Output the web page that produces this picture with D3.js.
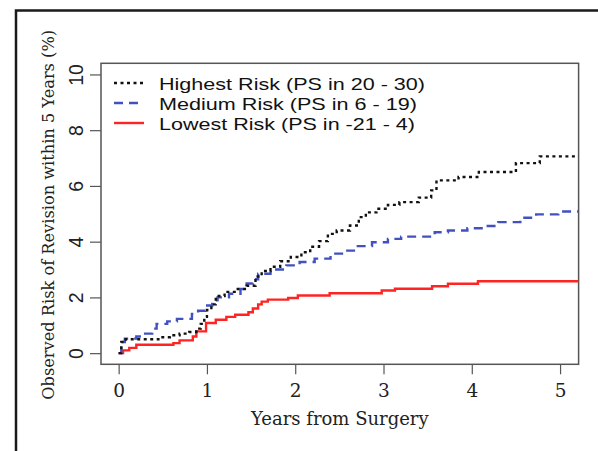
<!DOCTYPE html>
<html>
<head>
<meta charset="utf-8">
<script src="https://cdn.jsdelivr.net/npm/d3@7"></script>
<style>
  body { margin: 0; background: #fff; }
  svg { display: block; }
</style>
</head>
<body>
<div id="chart"></div>
<script>
// step points (years, % revised)
const highYears = [0, 0.03, 0.08, 0.45, 0.58, 0.69, 0.8, 0.88, 0.93, 0.97, 1.0, 1.05, 1.1, 1.2, 1.33, 1.45, 1.55, 1.62, 1.72, 1.83, 1.95, 2.07, 2.17, 2.27, 2.37, 2.47, 2.62, 2.72, 2.8, 2.92, 3.05, 3.18, 3.4, 3.54, 3.6, 3.85, 4.08, 4.5, 4.77, 5.21];
const highRisk = [0, 0.4, 0.5, 0.57, 0.64, 0.7, 0.76, 0.88, 1.05, 1.3, 1.55, 1.75, 2.05, 2.2, 2.3, 2.42, 2.75, 2.95, 3.1, 3.3, 3.45, 3.62, 3.82, 4.02, 4.28, 4.4, 4.58, 4.88, 5.05, 5.18, 5.32, 5.42, 5.58, 5.84, 6.2, 6.32, 6.5, 6.82, 7.06, 7.06];

const medYears = [0, 0.03, 0.07, 0.2, 0.3, 0.38, 0.43, 0.55, 0.66, 0.83, 0.9, 0.98, 1.06, 1.12, 1.25, 1.38, 1.45, 1.52, 1.58, 1.72, 1.9, 2.05, 2.22, 2.4, 2.55, 2.68, 2.87, 3.05, 3.2, 3.58, 3.73, 3.95, 4.13, 4.3, 4.55, 4.73, 4.98, 5.21];
const medRisk = [0, 0.4, 0.52, 0.6, 0.7, 0.88, 1.05, 1.14, 1.23, 1.41, 1.52, 1.71, 1.9, 2.0, 2.13, 2.3, 2.5, 2.65, 2.85, 3.0, 3.15, 3.27, 3.39, 3.57, 3.68, 3.84, 3.98, 4.1, 4.18, 4.34, 4.4, 4.48, 4.56, 4.7, 4.86, 4.98, 5.08, 5.08];

const lowYears = [0, 0.05, 0.12, 0.2, 0.62, 0.69, 0.84, 0.88, 0.99, 1.1, 1.22, 1.32, 1.47, 1.52, 1.58, 1.62, 1.69, 1.92, 2.03, 2.39, 2.98, 3.13, 3.55, 3.73, 4.07, 5.21];
const lowRisk = [0, 0.1, 0.19, 0.3, 0.36, 0.46, 0.6, 0.78, 1.08, 1.2, 1.3, 1.38, 1.47, 1.6, 1.75, 1.85, 1.92, 1.98, 2.07, 2.15, 2.25, 2.31, 2.4, 2.49, 2.58, 2.58];

const seriesLabels = ["Highest Risk (PS in 20 - 30)", "Medium Risk (PS in 6 - 19)", "Lowest Risk (PS in -21 - 4)"];
const xTicks = [0, 1, 2, 3, 4, 5];
const yTicks = [0, 2, 4, 6, 8, 10];

const W = 598, H = 451;
const box = { left: 101, right: 578.6, top: 63.3, bottom: 364.3 };

const svg = d3.select("#chart").append("svg")
  .attr("width", W).attr("height", H);

// outer frame of the figure
svg.append("path")
  .attr("d", `M16,${H + 5} L16,10.5 L${W + 5},10.5`)
  .attr("fill", "none").attr("stroke", "#1a1a1a").attr("stroke-width", 2.5);

const x = d3.scaleLinear().domain([-0.2, 5.21]).range([box.left, box.right]);
const y = d3.scaleLinear().domain([-0.4, 10.4]).range([box.bottom, box.top]);

svg.append("clipPath").attr("id", "clip")
  .append("rect")
  .attr("x", box.left).attr("y", box.top)
  .attr("width", box.right - box.left).attr("height", box.bottom - box.top);

// x axis
const xAxis = svg.append("g")
  .attr("transform", `translate(0,${box.bottom})`)
  .call(d3.axisBottom(x).tickValues(xTicks).tickSize(10).tickPadding(10).tickFormat(d3.format("d")));
xAxis.select(".domain").remove();
xAxis.selectAll("line").attr("stroke", "#555").attr("stroke-width", 1.2);
xAxis.selectAll("text")
  .attr("font-family", "DejaVu Serif, serif").attr("font-size", 18.5).attr("fill", "#222");

// y axis, labels turned like R's default
const yAxis = svg.append("g")
  .attr("transform", `translate(${box.left},0)`)
  .call(d3.axisLeft(y).tickValues(yTicks).tickSize(11).tickFormat(d3.format("d")));
yAxis.select(".domain").remove();
yAxis.selectAll("line").attr("stroke", "#555").attr("stroke-width", 1.2);
yAxis.selectAll("text")
  .attr("x", null).attr("dy", null)
  .attr("transform", "translate(-18.5,0) rotate(-90)")
  .attr("text-anchor", "middle")
  .attr("font-family", "Liberation Sans, Arial, sans-serif").attr("font-size", 19.5).attr("fill", "#222");

// plot box
svg.append("rect")
  .attr("x", box.left).attr("y", box.top)
  .attr("width", box.right - box.left).attr("height", box.bottom - box.top)
  .attr("fill", "none").attr("stroke", "#555").attr("stroke-width", 1.5);

const series = [
  { name: seriesLabels[0], years: highYears, risk: highRisk, color: "#111", dash: "3,3.5" },
  { name: seriesLabels[1], years: medYears, risk: medRisk, color: "#4152c0", dash: "9,6" },
  { name: seriesLabels[2], years: lowYears, risk: lowRisk, color: "#ff2424", dash: null }
];

const line = d3.line()
  .x((d) => x(d[0]))
  .y((d) => y(d[1]))
  .curve(d3.curveStepAfter);

svg.append("g").attr("clip-path", "url(#clip)")
  .selectAll("path")
  .data(series.slice().reverse())
  .join("path")
  .attr("d", (s) => line(s.years.map((v, i) => [v, s.risk[i]])))
  .attr("fill", "none")
  .attr("stroke", (s) => s.color)
  .attr("stroke-width", 2.4)
  .attr("stroke-dasharray", (s) => s.dash);

// legend (no box); widths stretched to the reference
const legendWidths = [266, 258, 256];
const legend = svg.append("g");
const rows = legend.selectAll("g").data(series).join("g")
  .attr("transform", (_d, i) => `translate(0,${83 + i * 20})`);
rows.append("line")
  .attr("x1", 114).attr("x2", 144)
  .attr("stroke", (s) => s.color)
  .attr("stroke-width", 2.4)
  .attr("stroke-dasharray", (s) => s.dash);
rows.append("text")
  .attr("x", 159).attr("y", 6.6)
  .attr("font-family", "Liberation Sans, Arial, sans-serif")
  .attr("font-size", 17.3).attr("fill", "#111")
  .attr("textLength", (_d, i) => legendWidths[i])
  .attr("lengthAdjust", "spacingAndGlyphs")
  .text((s) => s.name);

// axis titles
svg.append("text")
  .attr("x", (box.left + box.right) / 2).attr("y", 425)
  .attr("text-anchor", "middle")
  .attr("font-family", "DejaVu Serif, serif").attr("font-size", 18).attr("fill", "#222")
  .text("Years from Surgery");

svg.append("text")
  .attr("transform", `translate(54,${(box.top + box.bottom) / 2 + 1}) rotate(-90)`)
  .attr("text-anchor", "middle")
  .attr("font-family", "DejaVu Serif, serif").attr("font-size", 16.2).attr("fill", "#222")
  .text("Observed Risk of Revision within 5 Years (%)");
</script>
</body>
</html>
